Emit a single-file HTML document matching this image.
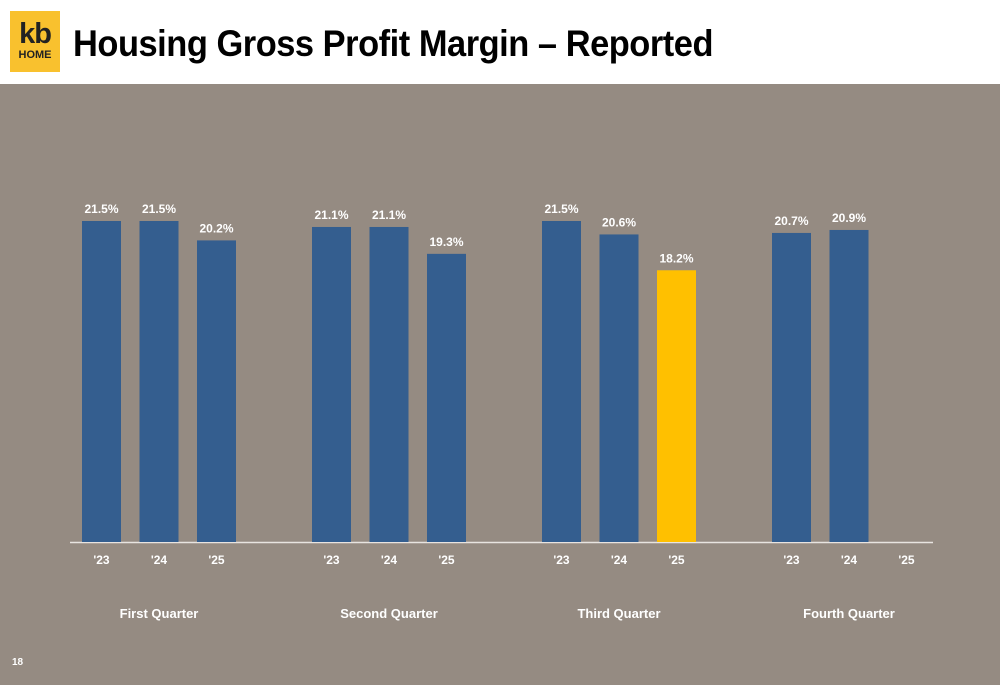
<!DOCTYPE html>
<html><head><meta charset="utf-8"><style>
body{margin:0;width:1000px;height:685px;overflow:hidden;background:#958b82;font-family:"Liberation Sans",sans-serif;position:relative}
#hdr{position:absolute;left:0;top:0;width:1000px;height:84px;background:#fff}
#logo{position:absolute;left:10px;top:11px;width:50px;height:61px;background:#f9c12e;text-align:center;color:#222}
#title{position:absolute;left:73px;top:23px;font-size:37px;font-weight:bold;color:#000;letter-spacing:-0.5px;transform:scaleX(0.93);transform-origin:left}
#pg{position:absolute;left:12px;top:657px;font-size:10px;color:#fff;font-weight:bold}
</style></head><body>
<div id="hdr">
<div id="logo"><div style="font-size:29px;font-weight:bold;line-height:30px;margin-top:8px;letter-spacing:-1px">kb</div><div style="font-size:11px;font-weight:bold;line-height:12px">HOME</div></div>
<div id="title">Housing Gross Profit Margin – Reported</div>
</div>
<svg id="chart" width="1000" height="685" style="position:absolute;left:0;top:0"></svg>
<div id="pg">18</div>
<script>
const quarters=["First Quarter","Second Quarter","Third Quarter","Fourth Quarter"];
const years=["'23","'24","'25"];
const values=[[21.5,21.5,20.2],[21.1,21.1,19.3],[21.5,20.6,18.2],[20.7,20.9,null]];
const highlight=[2,2];
const svg=document.getElementById('chart');
const NS='http://www.w3.org/2000/svg';
const base=542,scale=14.93,bw=39;
function x(q,y){return 82+q*230+y*57.5;}
function yv(v){return base-v*scale;}
function mk(t,a){const e=document.createElementNS(NS,t);for(const k in a)e.setAttribute(k,a[k]);svg.appendChild(e);return e;}
const ax=mk('line',{x1:70,x2:933,y1:base+0.5,y2:base+0.5,stroke:'#e8e4e0','stroke-width':1.5});


quarters.forEach((qn,q)=>{
 years.forEach((yr,i)=>{
  const v=values[q][i];
  if(v!==null){
   const hl=(q===highlight[0]&&i===highlight[1]);
   const r=mk('rect',{x:x(q,i),y:yv(v),width:bw,height:v*scale,fill:hl?'#ffc000':'#345e8f'});
   
   
   const t=mk('text',{x:x(q,i)+bw/2,y:yv(v)-8,'text-anchor':'middle','font-size':12,'font-weight':'bold',fill:'#fff'});
   t.textContent=v.toFixed(1)+'%';
   
   
  }
  const tl=mk('text',{x:x(q,i)+bw/2,y:564,'text-anchor':'middle','font-size':12,'font-weight':'bold',fill:'#fff'});
  tl.textContent=yr;
  
  
 });
 const g=mk('text',{x:x(q,1)+bw/2,y:618,'text-anchor':'middle','font-size':13,'font-weight':'bold',fill:'#fff'});
 g.textContent=qn;
 
 
});
</script>
</body></html>
